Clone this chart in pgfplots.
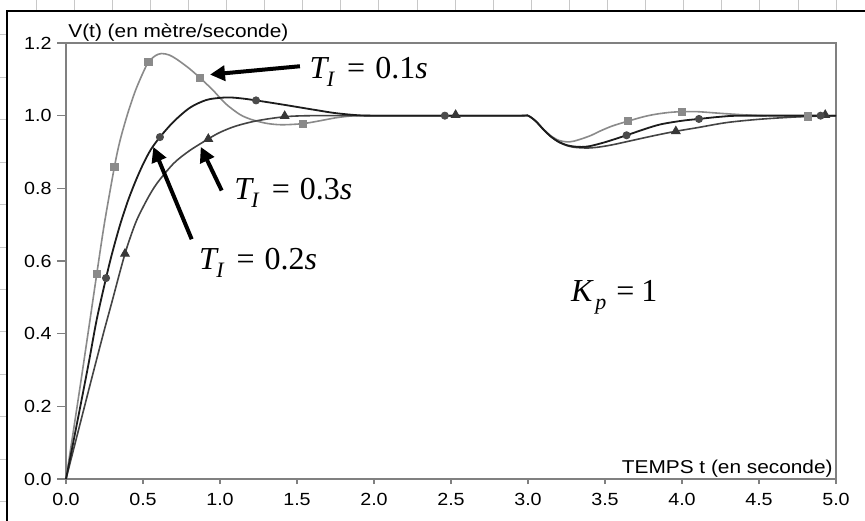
\documentclass[border=0pt]{standalone}
\usepackage{fontspec}
\setmainfont{Liberation Sans}
\newfontfamily\tms{Liberation Serif}
\usepackage{graphicx}
\usepackage{pgfplots}
\pgfplotsset{compat=1.18}
\usetikzlibrary{arrows.meta}

\definecolor{gridc}{RGB}{200,200,200}
\definecolor{boxc}{RGB}{128,128,128}
\definecolor{cA}{RGB}{138,138,138}
\definecolor{cB}{RGB}{28,28,28}
\definecolor{cBm}{RGB}{75,75,75}
\definecolor{cC}{RGB}{68,68,68}
\definecolor{cCm}{RGB}{55,55,55}

% text in the reference is slightly stretched horizontally
\newcommand{\sx}[1]{\scalebox{1.12}[1]{#1}}
\newcommand{\TI}[1]{{\tms\fontsize{16}{16}\selectfont\itshape T\kern-0.3pt\raisebox{-4pt}{\fontsize{11}{11}\selectfont I}\kern6.5pt\upshape=\kern5pt{}0.#1\itshape s}}

% T_I = 0.1 s
\pgfplotstableread{
t v
0 0
0.05 0.138
0.1 0.278
0.15 0.421
0.2 0.565
0.25 0.705
0.314 0.858
0.35 0.93
0.4 1.005
0.45 1.068
0.5 1.118
0.535 1.147
0.58 1.165
0.62 1.171
0.67 1.167
0.72 1.155
0.8 1.13
0.87 1.104
0.95 1.072
1.0 1.049
1.05 1.028
1.13 1.003
1.2 0.99
1.3 0.979
1.4 0.975
1.537 0.978
1.65 0.986
1.75 0.994
1.85 0.999
1.95 1.0
2.5 1.0
2.95 1.0
3.0 1.0
3.05 0.985
3.1 0.963
3.15 0.944
3.2 0.932
3.25 0.928
3.3 0.93
3.4 0.944
3.47 0.958
3.55 0.972
3.65 0.985
3.75 0.997
3.83 1.004
3.92 1.009
4.0 1.011
4.1 1.011
4.2 1.008
4.3 1.005
4.5 1.0
4.7 0.998
4.82 0.998
5.0 1.0
}\curveA
\pgfplotstableread{
t v
0.2 0.565
0.314 0.858
0.535 1.147
0.87 1.104
1.537 0.978
3.65 0.985
4.0 1.011
4.82 0.998
}\marksA

% T_I = 0.2 s
\pgfplotstableread{
t v
0 0
0.05 0.107
0.1 0.215
0.15 0.325
0.2 0.44
0.26 0.553
0.3 0.622
0.35 0.698
0.4 0.763
0.45 0.818
0.5 0.866
0.55 0.906
0.61 0.941
0.7 0.984
0.805 1.022
0.91 1.043
1.0 1.049
1.07 1.05
1.15 1.047
1.234 1.042
1.4 1.031
1.6 1.017
1.75 1.007
1.9 1.001
2.0 1.0
2.5 1.0
2.95 1.0
3.0 1.0
3.05 0.985
3.1 0.962
3.15 0.942
3.2 0.928
3.25 0.919
3.3 0.915
3.35 0.914
3.4 0.916
3.5 0.927
3.64 0.946
3.75 0.962
3.86 0.976
4.0 0.986
4.11 0.991
4.25 0.997
4.4 1.0
5.0 1.0
}\curveB
\pgfplotstableread{
t v
0.26 0.553
0.61 0.941
1.234 1.042
2.46 1.0
3.64 0.946
4.11 0.991
4.9 1.0
}\marksB

% T_I = 0.3 s
\pgfplotstableread{
t v
0 0
0.05 0.083
0.1 0.166
0.15 0.249
0.2 0.331
0.25 0.412
0.3 0.49
0.383 0.62
0.45 0.703
0.5 0.748
0.55 0.787
0.6 0.819
0.7 0.869
0.8 0.903
0.924 0.936
1.0 0.954
1.1 0.971
1.24 0.986
1.42 0.997
1.6 1.0
2.0 1.0
2.5 1.0
2.95 1.0
3.0 1.0
3.05 0.985
3.1 0.962
3.15 0.942
3.2 0.927
3.25 0.918
3.3 0.913
3.38 0.911
3.45 0.913
3.55 0.92
3.7 0.934
3.83 0.946
3.96 0.957
4.1 0.967
4.29 0.981
4.5 0.99
4.72 0.996
4.93 1.0
5.0 1.0
}\curveC
\pgfplotstableread{
t v
0.383 0.62
0.924 0.936
1.42 0.999
2.53 1.002
3.96 0.957
4.93 1.002
}\marksC

\begin{document}
\begin{tikzpicture}
% page in pixel units of the reference (1px = 0.5pt), origin at top left
\begin{scope}[x=0.5pt, y=-0.5pt, shift={(-33pt,239.5pt)}]
  \useasboundingbox (0,0) rectangle (865,520);
  \foreach \k in {0,...,21} \draw[gridc, line width=0.5pt] ({36+38.1*\k},0) -- ++(0,520);
  \foreach \k in {0,...,11} \draw[gridc, line width=0.5pt] (0,{35+42.4*\k}) -- ++(865,0);
  \filldraw[fill=white, draw=black, line width=1pt] (7,11) rectangle (900,560);
\end{scope}

\begin{axis}[
    at={(0,0)}, anchor=south west,
    scale only axis,
    width=385pt, height=218pt,
    xmin=0, xmax=5, ymin=0, ymax=1.2,
    xtick={0,0.5,1,1.5,2,2.5,3,3.5,4,4.5,5},
    ytick={0,0.2,0.4,0.6,0.8,1,1.2},
    xtick pos=bottom, ytick pos=left,
    tick align=outside,
    major tick length=4.5pt,
    x tick style={/pgfplots/major tick length=2.5pt},
    axis line style={boxc, line width=0.6pt},
    every tick/.style={boxc, line width=0.6pt},
    tick label style={font=\fontsize{8.8}{10}\selectfont, inner sep=0pt},
    xticklabel style={anchor=north, yshift=-2.5pt},
    yticklabel style={anchor=east, xshift=-2.5pt},
    /pgf/number format/assume math mode=true,
    xticklabel={\sx{\pgfmathprintnumber[fixed,fixed zerofill,precision=1]{\tick}}},
    yticklabel={\sx{\pgfmathprintnumber[fixed,fixed zerofill,precision=1]{\tick}}},
    clip=false,
]
\addplot[cA, line width=0.8pt, smooth] table {\curveA};
\addplot[cC, line width=0.8pt, smooth] table {\curveC};
\addplot[cB, line width=0.9pt, smooth] table {\curveB};
\addplot[only marks, mark=square*, mark size=1.8pt, cA] table {\marksA};
\addplot[only marks, mark=triangle*, mark size=2.5pt, cCm] table {\marksC};
\addplot[only marks, mark=*, mark size=1.8pt, cBm] table {\marksB};

\node[anchor=base west, inner sep=0pt, xshift=1pt, yshift=2.5pt,
      font=\fontsize{9.3}{10}\selectfont] at (rel axis cs:0,1) {\sx{V(t) (en mètre/seconde)}};
\node[anchor=base east, inner sep=0pt, xshift=-1.5pt, yshift=3pt,
      font=\fontsize{9.3}{10}\selectfont] at (rel axis cs:1,0) {\sx{TEMPS t (en seconde)}};

\draw[-{Triangle[length=7.5pt,width=7.5pt]}, line width=2pt] (axis cs:1.519,1.136) -- (axis cs:0.935,1.113);
\draw[-{Triangle[length=7.5pt,width=7.5pt]}, line width=2pt] (axis cs:1.011,0.794) -- (axis cs:0.875,0.914);
\draw[-{Triangle[length=7.5pt,width=7.5pt]}, line width=2pt] (axis cs:0.816,0.660) -- (axis cs:0.567,0.914);

\node[anchor=base west, inner sep=0pt] at (axis cs:1.58,1.102) {\TI{1}};
\node[anchor=base west, inner sep=0pt] at (axis cs:1.09,0.769) {\TI{3}};
\node[anchor=base west, inner sep=0pt] at (axis cs:0.862,0.576) {\TI{2}};
\node[anchor=base west, inner sep=0pt] at (axis cs:3.277,0.488)
  {\tms\fontsize{16}{16}\selectfont\itshape K\kern1.5pt\raisebox{-4pt}{\fontsize{11}{11}\selectfont p}\kern5pt\upshape=\kern3.5pt{}1};
\end{axis}
\end{tikzpicture}
\end{document}
